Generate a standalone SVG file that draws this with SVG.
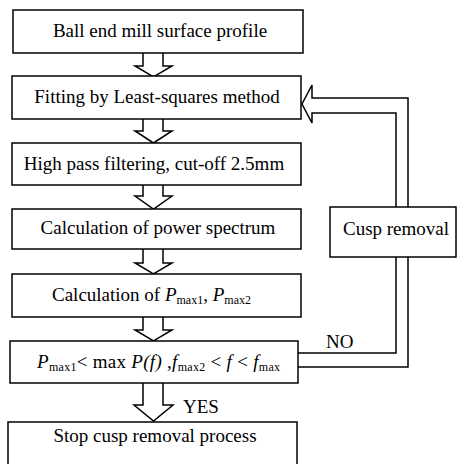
<svg xmlns="http://www.w3.org/2000/svg" width="465" height="464" viewBox="0 0 465 464">
<style>
.box{fill:#fff;stroke:#000;stroke-width:1.5}
.arr{fill:#fff;stroke:#000;stroke-width:1.5;stroke-linejoin:miter}
.ln{fill:none;stroke:#000;stroke-width:1.5}
text{font-family:"Liberation Serif","Times New Roman",serif;font-size:19px;fill:#000}
.c{text-anchor:middle}
.it{font-style:italic}
.sub{font-size:12px}
</style>
<rect width="465" height="464" fill="#fff"/>
<g id="connectors">
<path class="arr" d="M143,53 V66 H135 L153.5,77 L172,66 H163 V53"/>
<path class="arr" d="M143,119 V131 H135 L153.5,143 L172,131 H163 V119"/>
<path class="arr" d="M143,185 V196 H135 L153.5,209 L172,196 H163 V185"/>
<path class="arr" d="M143,249 V263 H135 L153.5,274 L172,263 H163 V249"/>
<path class="arr" d="M143,317 V330 H135 L153.5,341 L172,330 H163 V317"/>
<path class="arr" d="M143,383 V405 H134 L153.5,421 L173,405 H163 V383"/>
<polyline class="ln" points="298,353 396,353 396,257"/>
<polyline class="ln" points="298,367 408,367 408,257"/>
<path class="arr" d="M396,207 V113 H312 V123 L302,104 L312,85 V98 H408 V207"/>
<text x="326" y="348">NO</text>
<text x="183" y="413">YES</text>
</g>
<g id="n1"><rect class="box" x="13" y="10" width="290" height="43"/><text class="c" x="160" y="37">Ball end mill surface profile</text></g>
<g id="n2"><rect class="box" x="12" y="76" width="289" height="43"/><text class="c" x="157" y="103">Fitting by Least-squares method</text></g>
<g id="n3"><rect class="box" x="12" y="143" width="289" height="42"/><text class="c" x="154" y="170">High pass filtering, cut-off 2.5mm</text></g>
<g id="n4"><rect class="box" x="12" y="209" width="289" height="40"/><text class="c" x="158" y="234">Calculation of power spectrum</text></g>
<g id="n5"><rect class="box" x="12" y="274" width="289" height="43"/><text x="52" y="301">Calculation of <tspan class="it">P</tspan><tspan class="sub" dy="3">max1</tspan><tspan dy="-3">, </tspan><tspan class="it">P</tspan><tspan class="sub" dy="3">max2</tspan></text></g>
<g id="n6"><rect class="box" x="10" y="341" width="288" height="42"/><text x="37" y="368" textLength="243" lengthAdjust="spacing"><tspan class="it">P</tspan><tspan class="sub" dy="3">max1</tspan><tspan dy="-3">&lt; max </tspan><tspan class="it">P(f)</tspan><tspan> ,</tspan><tspan class="it">f</tspan><tspan class="sub" dy="3">max2</tspan><tspan dy="-3"> &lt; </tspan><tspan class="it">f</tspan><tspan> &lt; </tspan><tspan class="it">f</tspan><tspan class="sub" dy="3">max</tspan></text></g>
<g id="n7"><rect class="box" x="8" y="422" width="289" height="50"/><text class="c" x="155" y="442">Stop cusp removal process</text></g>
<g id="n8"><rect class="box" x="330" y="207" width="126" height="50"/><text class="c" x="396" y="235">Cusp removal</text></g>
</svg>
